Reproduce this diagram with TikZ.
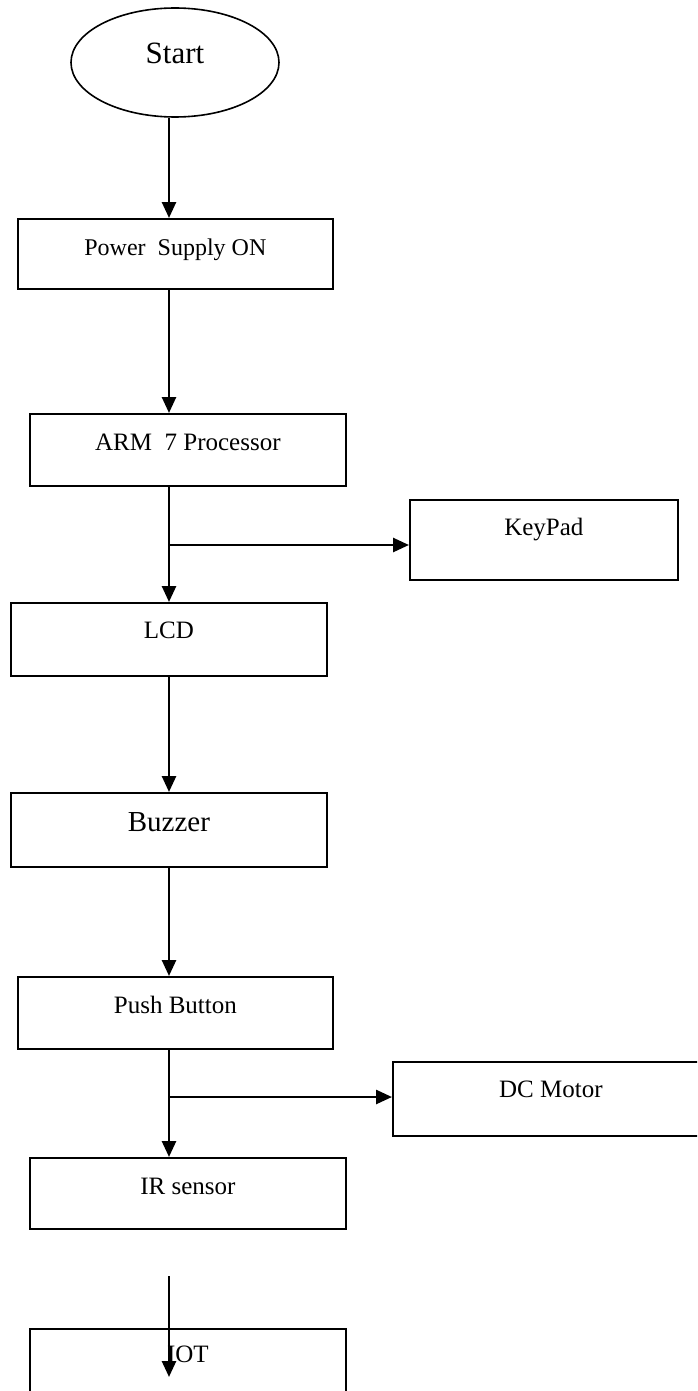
\documentclass[tikz,border=0pt]{standalone}
\usepackage{fontspec}
\setmainfont{Liberation Serif}
\usetikzlibrary{shapes.geometric,arrows.meta}
\tikzset{
  box/.style={draw, line width=1.8pt, inner sep=0pt, anchor=north west,
    text height=37pt, font=\fontsize{25}{30}\selectfont},
  arr/.style={line width=2.6pt, -{Triangle[length=16pt,width=14pt]}},
}
\begin{document}
\begin{tikzpicture}[x=1pt,y=-1pt]
\useasboundingbox (0,0) rectangle (697,1391);
\clip (0,0) rectangle (697,1391);
\fill[white] (0,0) rectangle (697,1391);

\node[draw, ellipse, line width=1.6pt, minimum width=208pt, minimum height=109pt,
  inner sep=0pt, text height=21pt, text depth=18pt,
  font=\fontsize{31}{36}\selectfont] (start) at (175,62.5) {Start};

\node[box, minimum width=315pt, text depth=33pt, font=\fontsize{24}{29}\selectfont] (power) at (17,218) {Power\ \ Supply ON};
\node[box, minimum width=316pt, text depth=35pt] (arm) at (29,413) {ARM\ \ 7 Processor};
\node[box, minimum width=316pt, text height=36pt, text depth=37pt] (lcd) at (10,602) {LCD};
\node[box, minimum width=268pt, text height=36pt, text depth=44pt] (keypad) at (409,499) {KeyPad};
\node[box, minimum width=316pt, text height=39pt, text depth=35pt, font=\fontsize{29}{34}\selectfont] (buzzer) at (10,792) {Buzzer};
\node[box, minimum width=315pt, text depth=35pt] (push) at (17,976) {Push Button};
\node[box, minimum width=316pt, text depth=34pt] (ir) at (29,1157) {IR sensor};
\node[box, minimum width=316pt, text height=36pt, text depth=38pt] (dc) at (392,1061) {DC Motor};
\node[box, minimum width=316pt, text height=34pt, text depth=40pt] (iot) at (29,1328) {IOT};

\coordinate (spine) at (169,0);
\coordinate (j1) at (169,545);
\coordinate (j2) at (169,1097);
\coordinate (i0) at (169,1276);
\coordinate (i1) at (169,1377);

\draw[arr] (start.south -| spine) -- (power.north -| spine);
\draw[arr] (power.south -| spine) -- (arm.north -| spine);
\draw[arr] (arm.south -| spine) -- (lcd.north -| spine);
\draw[arr] (j1) -- (j1 -| keypad.west);
\draw[arr] (lcd.south -| spine) -- (buzzer.north -| spine);
\draw[arr] (buzzer.south -| spine) -- (push.north -| spine);
\draw[arr] (push.south -| spine) -- (ir.north -| spine);
\draw[arr] (j2) -- (j2 -| dc.west);
\draw[arr] (i0) -- (i1);
\end{tikzpicture}
\end{document}
